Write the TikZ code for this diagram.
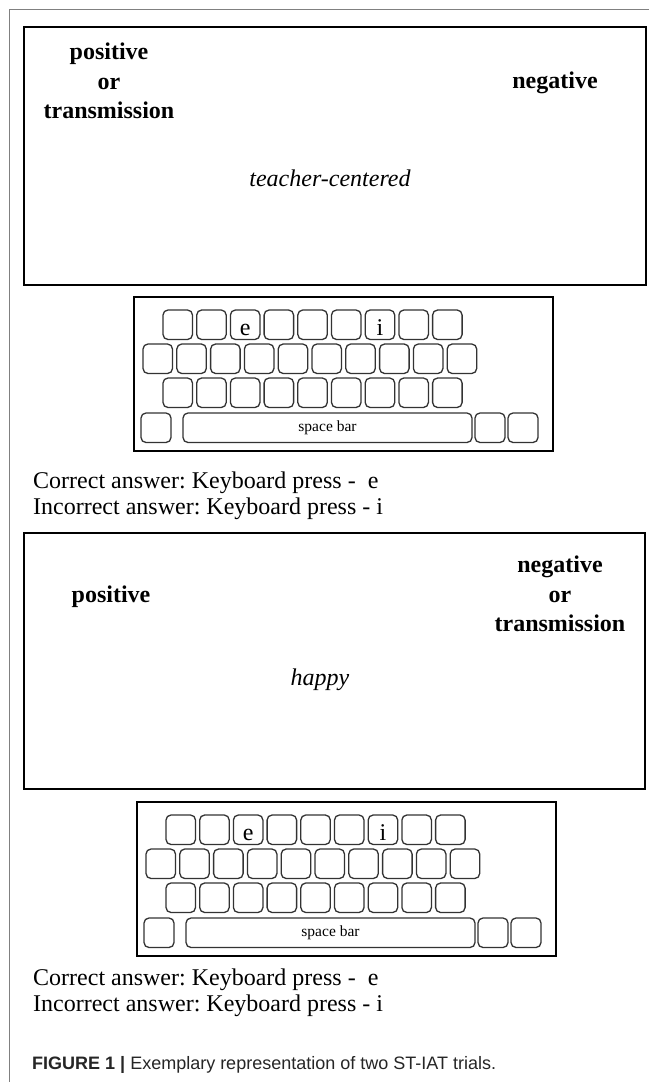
\documentclass[tikz,border=0pt]{standalone}
\usepackage{fontspec}
\setmainfont{Liberation Serif}
\newfontfamily\capfont{Liberation Sans}
\frenchspacing
\begin{document}
\begin{tikzpicture}[x=1pt,y=-1pt,
  frameline/.style={draw=black!50, line width=0.9pt},
  panel/.style={draw=black, line width=2.2pt},
  kbframe/.style={draw=black, line width=2.8pt},
  keycap/.style={draw=black!80, line width=1.3pt, rounded corners=5pt},
  catlabel/.style={font=\fontsize{24}{29.5}\selectfont\bfseries, align=center, inner sep=0pt},
  stimulus/.style={font=\fontsize{24}{29}\selectfont\itshape, inner sep=0pt},
  keyletter/.style={font=\fontsize{24}{29}\selectfont, inner sep=0pt, anchor=base},
  spacelabel/.style={font=\fontsize{15.5}{18}\selectfont, inner sep=0pt},
  answer/.style={font=\fontsize{24}{29}\selectfont, inner sep=0pt, anchor=west},
  captext/.style={font=\capfont\fontsize{18}{22}\selectfont, text=black!85, inner sep=0pt, anchor=west},
]
\useasboundingbox (0,0) rectangle (649,1082);
\fill[white] (0,0) rectangle (649,1082);
% outer frame lines
\coordinate (ftl) at (9,9);
\coordinate (ftr) at (649,9);
\coordinate (fbl) at (9,1082);
\draw[frameline] (ftr) -- (ftl) -- (fbl);

% ---------- keyboard macro ----------
\newcommand{\mykeyboard}[3]{% #1 = x shift, #2 = y top, #3 = name prefix
  \begin{scope}[shift={(#1,#2)}]
    \draw[kbframe] (134,0) rectangle (553,154);
    \foreach \k in {0,...,8} {
      \draw[keycap] ({163+33.7*\k},13) rectangle ++(29.5,29.5);
      \draw[keycap] ({163+33.7*\k},81) rectangle ++(29.5,29.5);
    }
    \foreach \k in {0,...,9} {
      \draw[keycap] ({143+33.8*\k},47) rectangle ++(29.5,29.5);
    }
    \draw[keycap] (141,116) rectangle ++(30,29.5);
    \draw[keycap] (183,116) rectangle (472,145.5);
    \draw[keycap] (475,116) rectangle ++(30,29.5);
    \draw[keycap] (508,116) rectangle ++(30,29.5);
    \node[keyletter] (#3e) at ({163+33.7*2+14.75},38) {e};
    \node[keyletter] (#3i) at ({163+33.7*6+14.75},38) {i};
    \node[spacelabel] (#3sp) at (327.5,130.75) {space bar};
  \end{scope}}

% ---------- trial 1 ----------
\draw[panel] (24,27) rectangle (646,285);
\node[catlabel] (l1) at (109,81) {positive\\or\\transmission};
\node[catlabel] (r1) at (555,83) {negative};
\node[stimulus] (s1) at (330,178) {teacher-centered};
\mykeyboard{0}{297}{ka}
\node[answer] (c1) at (33,483) {Correct answer: Keyboard press -~~e};
\node[answer] (w1) at (33,509) {Incorrect answer: Keyboard press - i};

% ---------- trial 2 ----------
\draw[panel] (24,533) rectangle (645,789);
\node[catlabel] (l2) at (111,597) {positive};
\node[catlabel] (r2) at (560,594) {negative\\or\\transmission};
\node[stimulus] (s2) at (320,680) {happy};
\mykeyboard{3}{802}{kb}
\node[answer] (c2) at (33,980) {Correct answer: Keyboard press -~~e};
\node[answer] (w2) at (33,1006) {Incorrect answer: Keyboard press - i};

% ---------- caption ----------
\node[captext] (cap) at (32,1065) {{\bfseries FIGURE 1 |} Exemplary representation of two ST-IAT trials.};
\end{tikzpicture}
\end{document}
